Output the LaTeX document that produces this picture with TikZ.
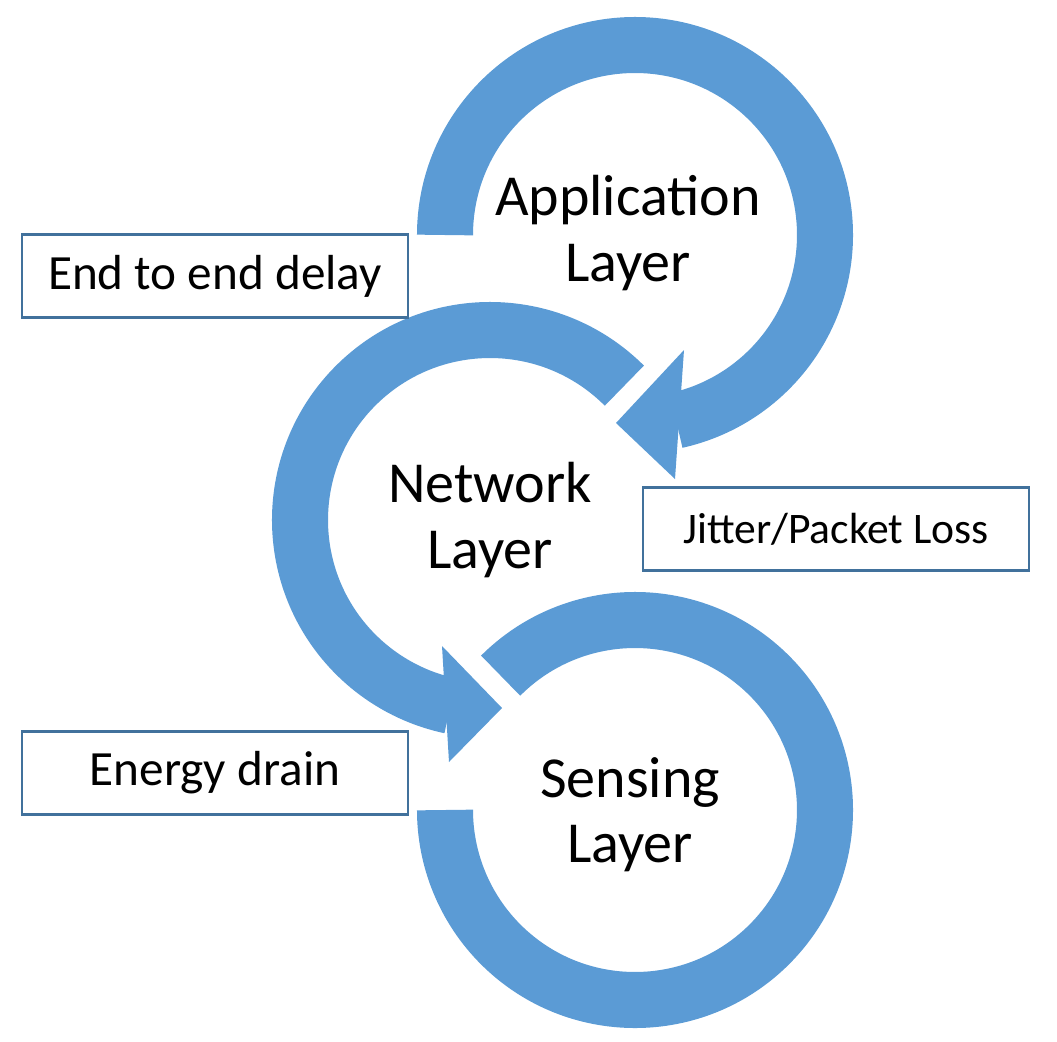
\documentclass[tikz,border=0pt]{standalone}
\usepackage{fontspec}
\setmainfont{Carlito}
\usetikzlibrary{calc}
\definecolor{ringblue}{HTML}{5B9BD5}
\definecolor{boxblue}{HTML}{41719C}
\begin{document}
\begin{tikzpicture}[x=0.01cm,y=-0.01cm,
  ring/.style={draw=ringblue,line width=0.56cm,line cap=butt},
  head/.style={fill=ringblue,draw=none},
  lbl/.style={align=center,font=\fontsize{16.5pt}{18.5pt}\selectfont},
  box/.style={draw=boxblue,line width=0.6pt,minimum width=3.86cm,minimum height=0.83cm,font=\fontsize{14pt}{16pt}\selectfont,inner sep=0pt}]
\useasboundingbox (0,0) rectangle (1057,1042);
\coordinate (ct) at (635,235);
\coordinate (cm) at (490,520);
\coordinate (cb) at (635,810);
% top ring
\draw[ring] ($(ct)+(-180:190)$) arc[start angle=-180,end angle=77.5,radius=190];
\fill[head] (684,350) -- (616,423) -- (675,479) -- cycle;
% middle ring
\draw[ring] ($(cm)+(-45:190)$) arc[start angle=-45,end angle=-258,radius=190];
\fill[head] (442,646) -- (502,708) -- (449,762) -- cycle;
% bottom ring
\draw[ring] ($(cb)+(-135:190)$) arc[start angle=-135,end angle=180,radius=190];
% labels
\node[lbl] (app) at (628,233) {Application\\Layer};
\node[lbl] (net) at (490,520) {Network\\Layer};
\node[lbl] (sen) at (630,815) {Sensing\\Layer};
\node[box] (e2e) at (215,276) {End to end delay};
\node[box,font=\fontsize{12.4pt}{14pt}\selectfont] (jit) at (836,529) {Jitter/Packet Loss};
\node[box] (eng) at (215,773) {Energy drain};
\end{tikzpicture}
\end{document}
